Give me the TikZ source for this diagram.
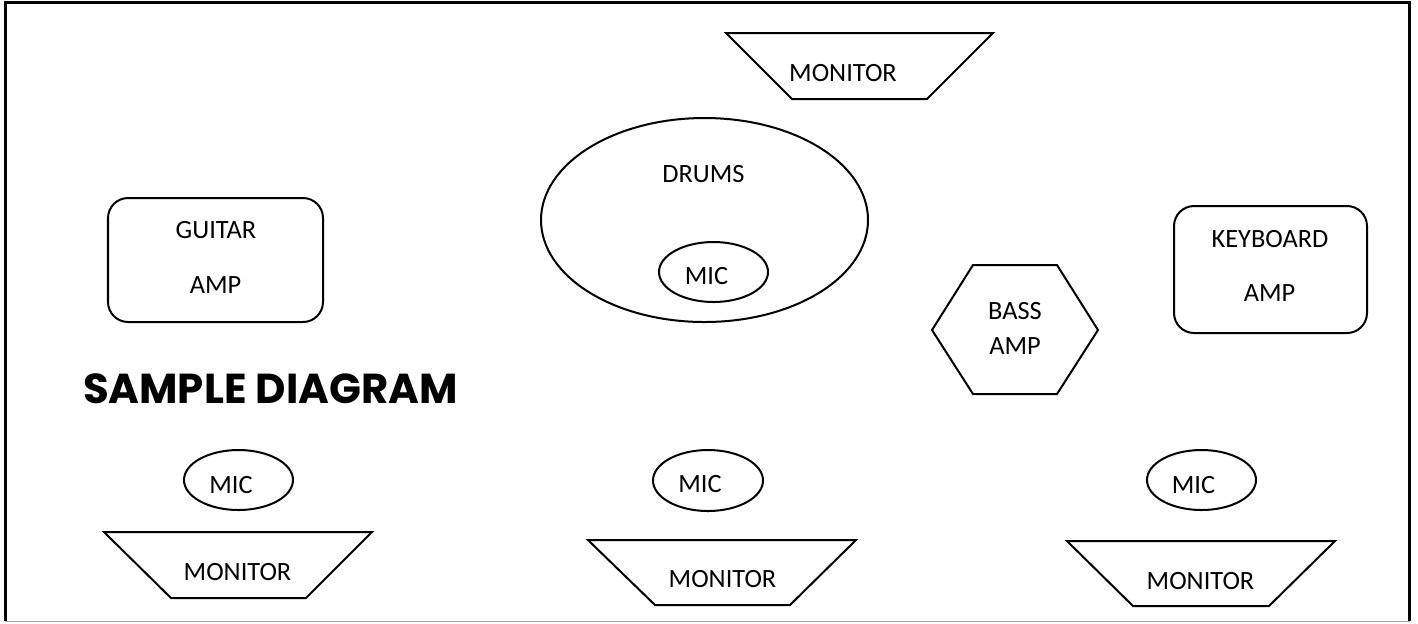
\documentclass[tikz,border=0pt]{standalone}
\usepackage{fontspec}
\setmainfont{Carlito}
\newfontfamily\titlefont{Poppins}

\begin{document}
\begin{tikzpicture}[x=0.01cm,y=-0.01cm,line width=0.57pt,
  txt/.style={font=\fontsize{7.5}{9}\selectfont,inner sep=0pt},
  amp/.style={rounded corners=5.7pt}]
\useasboundingbox (0,0) rectangle (1418,623);
% frame
\draw[line width=0.9pt] (5.5,621) -- (5.5,2.5) -- (1409.5,2.5) -- (1409.5,621);
\draw[gray!70,line width=0.3pt] (5,621.5) -- (1410,621.5);

% top monitor
\draw (726,33) -- (993,33) -- (927,99) -- (792,99) -- cycle;
\node[txt] (montop) at (843,73.5) {MONITOR};

% drums with mic
\draw (704.5,220) ellipse [x radius=163.5, y radius=102];
\node[txt] (drums) at (703.5,174.5) {DRUMS};
\draw (713.5,272) ellipse [x radius=54.5, y radius=30];
\node[txt] (micdrums) at (706.5,276.5) {MIC};

% guitar amp
\draw[amp] (108,198) rectangle (323,322);
\node[txt] (guitar) at (216,230) {GUITAR};
\node[txt] (guitaramp) at (215.5,285) {AMP};

% bass amp
\draw (932,330) -- (973,265) -- (1057,265) -- (1098,330) -- (1057,394) -- (973,394) -- cycle;
\node[txt] (bass) at (1015,311.5) {BASS};
\node[txt] (bassamp) at (1015,346.5) {AMP};

% keyboard amp
\draw[amp] (1174,206) rectangle (1367,333);
\node[txt] (keys) at (1270,239.5) {KEYBOARD};
\node[txt] (keysamp) at (1269.5,293) {AMP};

\node[font=\titlefont\bfseries\fontsize{11.9}{14}\selectfont,inner sep=0pt,anchor=west] (title) at (82,389) {SAMPLE DIAGRAM};

% front line: mics and monitors
\draw (238.5,480) ellipse [x radius=54.5, y radius=30];
\node[txt] (micleft) at (231,485) {MIC};
\draw (708,480.5) ellipse [x radius=55, y radius=30.5];
\node[txt] (micmid) at (700,484.5) {MIC};
\draw (1201.5,480) ellipse [x radius=54.5, y radius=30];
\node[txt] (micright) at (1193.5,485) {MIC};

\draw (104,532) -- (372,532) -- (306,598) -- (171,598) -- cycle;
\node[txt] (monleft) at (237.5,572.5) {MONITOR};
\draw (588,540) -- (856,540) -- (790,605) -- (655,605) -- cycle;
\node[txt] (monmid) at (722.5,579.5) {MONITOR};
\draw (1067,541) -- (1335,541) -- (1269,606) -- (1133,606) -- cycle;
\node[txt] (monright) at (1200.5,581) {MONITOR};

\end{tikzpicture}
\end{document}
